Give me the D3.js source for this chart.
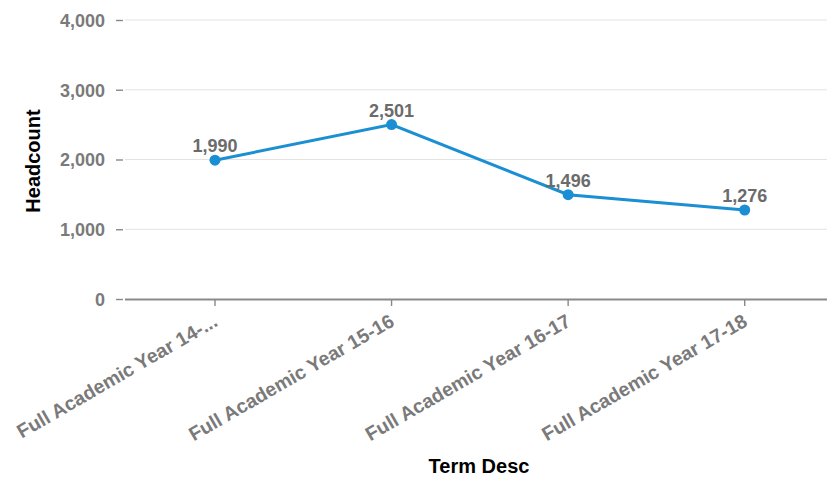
<!DOCTYPE html>
<html>
<head>
<meta charset="utf-8">
<script src="https://cdn.jsdelivr.net/npm/d3@7"></script>
<style>
  body { margin: 0; background: #fff; }
  text { font-family: "Liberation Sans", Arial, sans-serif; }
</style>
</head>
<body>
<div id="chart"></div>
<script>
//data
const categories = ["Full Academic Year 14-...", "Full Academic Year 15-16", "Full Academic Year 16-17", "Full Academic Year 17-18"];
const headcount = [1990, 2501, 1496, 1276];
const yTicks = [0, 1000, 2000, 3000, 4000];

//size
const width = 827;
const height = 477;

const svg = d3.select("#chart")
  .append("svg")
  .attr("width", width)
  .attr("height", height);

const x = d3.scaleBand()
  .domain(categories)
  .range([126.7, 833]);

const y = d3.scaleLinear()
  .domain([0, 4000])
  .range([299, 20]);

const fmt = d3.format(",");

//gridlines
svg.append("g")
  .selectAll("line")
  .data(yTicks.filter(d => d > 0))
  .join("line")
  .attr("x1", 125)
  .attr("x2", width)
  .attr("y1", d => y(d))
  .attr("y2", d => y(d))
  .attr("stroke", "#e3e3e3")
  .attr("stroke-width", 1.2);

//y axis (ticks only, no domain line)
const yAxis = svg.append("g")
  .attr("transform", "translate(123,0)")
  .call(d3.axisLeft(y).tickValues(yTicks).tickFormat(fmt).tickSize(7).tickPadding(11));
yAxis.select(".domain").remove();
yAxis.selectAll(".tick line").attr("stroke", "#888").attr("stroke-width", 1.4);
yAxis.selectAll(".tick text")
  .attr("fill", "#7a7a7a")
  .attr("dy", "0.36em")
  .style("font-size", "18px")
  .style("font-weight", "bold");

//x axis
const xAxis = svg.append("g")
  .attr("transform", "translate(0,299)")
  .call(d3.axisBottom(x).tickSize(7).tickSizeOuter(0));
xAxis.select(".domain")
  .attr("d", `M125,0.5H${width}`)
  .attr("stroke", "#8a8a8a")
  .attr("stroke-width", 2);
xAxis.selectAll(".tick line").attr("stroke", "#888").attr("stroke-width", 1.4);
xAxis.selectAll(".tick text")
  .attr("fill", "#7a7a7a")
  .style("font-size", "19.5px")
  .style("font-weight", "bold")
  .attr("text-anchor", "end")
  .attr("dy", null)
  .attr("y", 0)
  .attr("transform", "translate(4,26) rotate(-30)");

//axis titles
svg.append("text")
  .attr("transform", `translate(40,161) rotate(-90)`)
  .attr("text-anchor", "middle")
  .style("font-size", "20px")
  .style("font-weight", "bold")
  .attr("fill", "#000")
  .text("Headcount");

svg.append("text")
  .attr("x", 479)
  .attr("y", 473)
  .attr("text-anchor", "middle")
  .style("font-size", "20px")
  .style("font-weight", "bold")
  .attr("fill", "#000")
  .text("Term Desc");

//line
const cx = (d, i) => x(categories[i]) + x.bandwidth() / 2;
const line = d3.line()
  .x(cx)
  .y(d => y(d));

svg.append("path")
  .datum(headcount)
  .attr("d", line)
  .attr("fill", "none")
  .attr("stroke", "#1b8fd3")
  .attr("stroke-width", 3);

svg.append("g")
  .selectAll("circle")
  .data(headcount)
  .join("circle")
  .attr("cx", cx)
  .attr("cy", d => y(d))
  .attr("r", 5.5)
  .attr("fill", "#1b8fd3");

svg.append("g")
  .selectAll("text")
  .data(headcount)
  .join("text")
  .attr("x", cx)
  .attr("y", d => y(d) - 8)
  .attr("text-anchor", "middle")
  .style("font-size", "18px")
  .style("font-weight", "bold")
  .attr("fill", "#6b6b6b")
  .text(d => fmt(d));
</script>
</body>
</html>
